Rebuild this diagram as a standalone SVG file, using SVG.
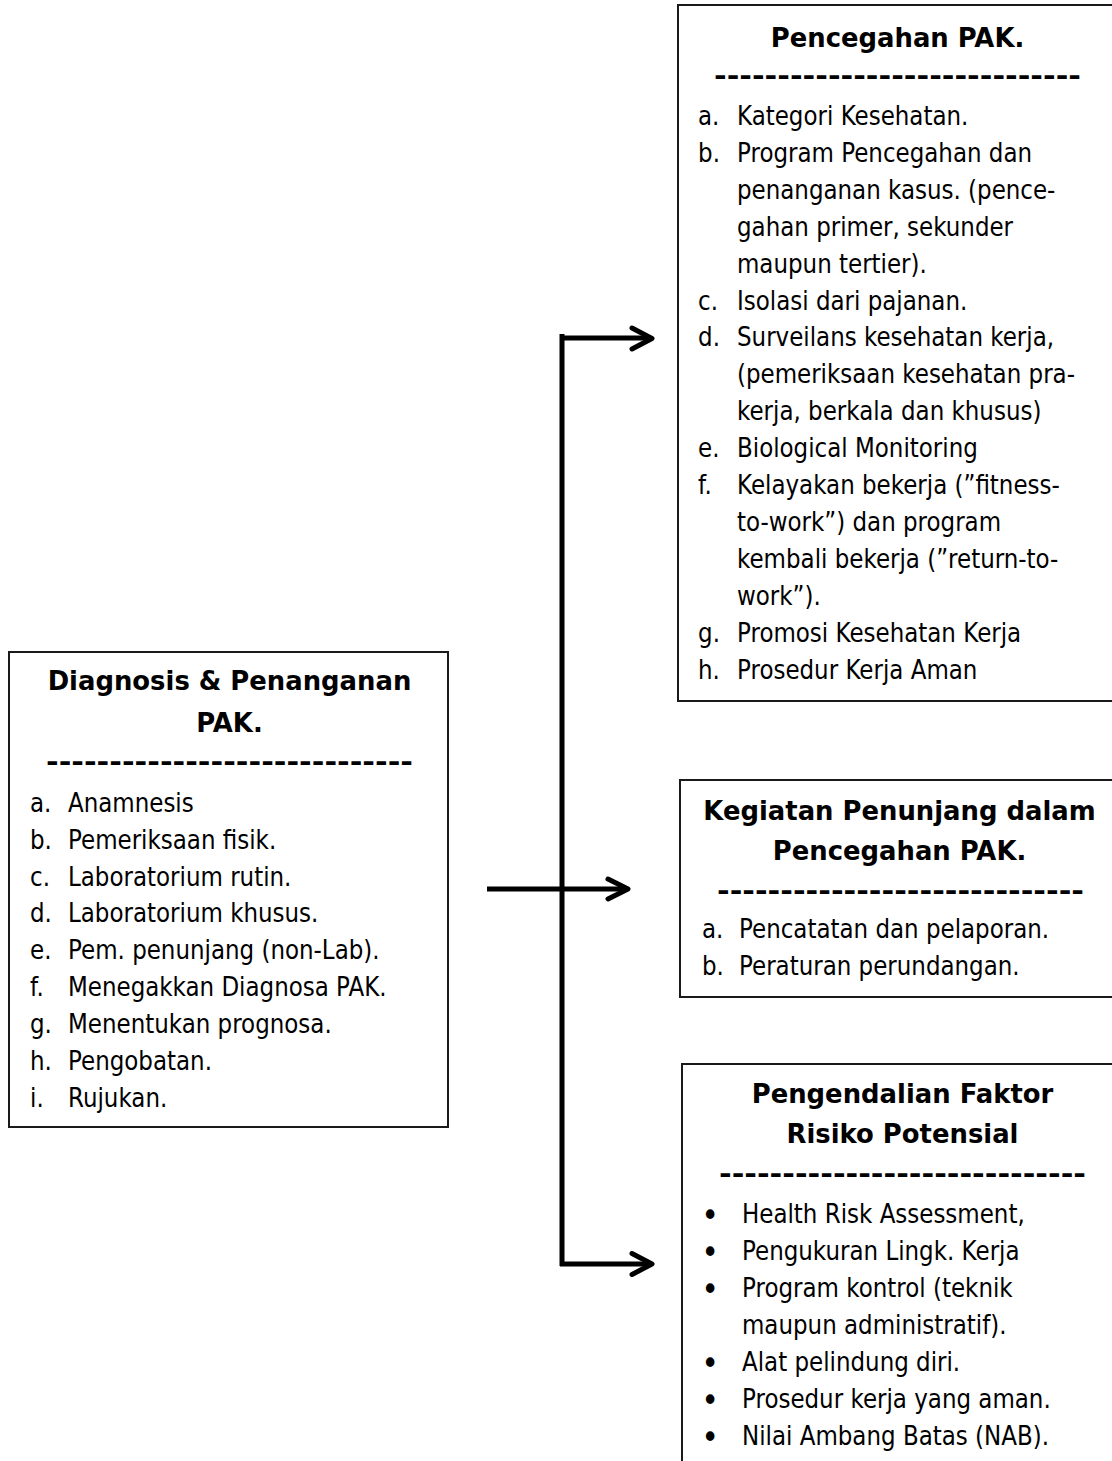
<svg xmlns="http://www.w3.org/2000/svg" width="1112" height="1461" viewBox="0 0 1112 1461">
<style>
.t{font-family:"DejaVu Sans",Verdana,sans-serif;font-size:26.67px;fill:#000}
.b{font-family:"DejaVu Sans",Verdana,sans-serif;font-size:26.67px;font-weight:bold;fill:#000}
.bu{font-family:"DejaVu Sans",Verdana,sans-serif;font-size:34px;fill:#000}
.box{fill:#fff;stroke:#1a1a1a;stroke-width:2}
.conn{fill:none;stroke:#000;stroke-width:5}
.head{fill:none;stroke:#000;stroke-width:5;stroke-linecap:round;stroke-linejoin:round}
</style>
<rect width="1112" height="1461" fill="#fff"/>

<g id="connectors">
  <path class="conn" d="M562,1266 V334"/>
  <path class="conn" d="M560,338 H650"/>
  <polyline class="head" points="632,328 652,338.5 632,349"/>
  <path class="conn" d="M487,889 H626"/>
  <polyline class="head" points="608,879 628,889 608,899"/>
  <path class="conn" d="M560,1264 H650"/>
  <polyline class="head" points="632,1253.5 652,1264 632,1274.5"/>
</g>

<g id="node-pencegahan">
  <rect class="box" x="678" y="5" width="450" height="696"/>
  <text class="b" text-anchor="middle" transform="translate(897.5,47) scale(0.97,1)">Pencegahan PAK.</text>
  <text class="b" x="714" y="85" textLength="367" lengthAdjust="spacingAndGlyphs">-----------------------------</text>
  <g transform="translate(737,0) scale(0.862,1)">
    <text class="t" x="-45.2" y="125">a.</text><text class="t" x="0" y="125">Kategori Kesehatan.</text>
    <text class="t" x="-45.2" y="162">b.</text><text class="t" x="0" y="162">Program Pencegahan dan</text>
    <text class="t" x="0" y="199">penanganan kasus. (pence-</text>
    <text class="t" x="0" y="236">gahan primer, sekunder</text>
    <text class="t" x="0" y="273">maupun tertier).</text>
    <text class="t" x="-45.2" y="310">c.</text><text class="t" x="0" y="310">Isolasi dari pajanan.</text>
    <text class="t" x="-45.2" y="346">d.</text><text class="t" x="0" y="346">Surveilans kesehatan kerja,</text>
    <text class="t" x="0" y="383">(pemeriksaan kesehatan pra-</text>
    <text class="t" x="0" y="420">kerja, berkala dan khusus)</text>
    <text class="t" x="-45.2" y="457">e.</text><text class="t" x="0" y="457">Biological Monitoring</text>
    <text class="t" x="-45.2" y="494">f.</text><text class="t" x="0" y="494">Kelayakan bekerja (”fitness-</text>
    <text class="t" x="0" y="531">to-work”) dan program</text>
    <text class="t" x="0" y="568">kembali bekerja (”return-to-</text>
    <text class="t" x="0" y="605">work”).</text>
    <text class="t" x="-45.2" y="642">g.</text><text class="t" x="0" y="642">Promosi Kesehatan Kerja</text>
    <text class="t" x="-45.2" y="679">h.</text><text class="t" x="0" y="679">Prosedur Kerja Aman</text>
  </g>
</g>

<g id="node-diagnosis">
  <rect class="box" x="9" y="652" width="439" height="475"/>
  <text class="b" text-anchor="middle" transform="translate(229.5,690) scale(0.97,1)">Diagnosis &amp; Penanganan</text>
  <text class="b" text-anchor="middle" transform="translate(229.5,732) scale(0.97,1)">PAK.</text>
  <text class="b" x="46" y="771" textLength="367" lengthAdjust="spacingAndGlyphs">-----------------------------</text>
  <g transform="translate(68,0) scale(0.862,1)">
    <text class="t" x="-44.1" y="812">a.</text><text class="t" x="0" y="812">Anamnesis</text>
    <text class="t" x="-44.1" y="849">b.</text><text class="t" x="0" y="849">Pemeriksaan fisik.</text>
    <text class="t" x="-44.1" y="886">c.</text><text class="t" x="0" y="886">Laboratorium rutin.</text>
    <text class="t" x="-44.1" y="922">d.</text><text class="t" x="0" y="922">Laboratorium khusus.</text>
    <text class="t" x="-44.1" y="959">e.</text><text class="t" x="0" y="959">Pem. penunjang (non-Lab).</text>
    <text class="t" x="-44.1" y="996">f.</text><text class="t" x="0" y="996">Menegakkan Diagnosa PAK.</text>
    <text class="t" x="-44.1" y="1033">g.</text><text class="t" x="0" y="1033">Menentukan prognosa.</text>
    <text class="t" x="-44.1" y="1070">h.</text><text class="t" x="0" y="1070">Pengobatan.</text>
    <text class="t" x="-44.1" y="1107">i.</text><text class="t" x="0" y="1107">Rujukan.</text>
  </g>
</g>

<g id="node-penunjang">
  <rect class="box" x="680" y="780" width="450" height="217"/>
  <text class="b" text-anchor="middle" transform="translate(899.5,820) scale(0.97,1)">Kegiatan Penunjang dalam</text>
  <text class="b" text-anchor="middle" transform="translate(899.5,860) scale(0.97,1)">Pencegahan PAK.</text>
  <text class="b" x="717" y="900" textLength="367" lengthAdjust="spacingAndGlyphs">-----------------------------</text>
  <g transform="translate(739,0) scale(0.862,1)">
    <text class="t" x="-42.9" y="938">a.</text><text class="t" x="0" y="938">Pencatatan dan pelaporan.</text>
    <text class="t" x="-42.9" y="975">b.</text><text class="t" x="0" y="975">Peraturan perundangan.</text>
  </g>
</g>

<g id="node-pengendalian">
  <rect class="box" x="682" y="1064" width="450" height="420"/>
  <text class="b" text-anchor="middle" transform="translate(902.5,1103) scale(0.97,1)">Pengendalian Faktor</text>
  <text class="b" text-anchor="middle" transform="translate(902.5,1143) scale(0.97,1)">Risiko Potensial</text>
  <text class="b" x="719" y="1183" textLength="367" lengthAdjust="spacingAndGlyphs">-----------------------------</text>
  <g transform="translate(742,0) scale(0.862,1)">
    <text class="bu" x="-37.1" y="1227" text-anchor="middle">•</text><text class="t" x="0" y="1223">Health Risk Assessment,</text>
    <text class="bu" x="-37.1" y="1264" text-anchor="middle">•</text><text class="t" x="0" y="1260">Pengukuran Lingk. Kerja</text>
    <text class="bu" x="-37.1" y="1301" text-anchor="middle">•</text><text class="t" x="0" y="1297">Program kontrol (teknik</text>
    <text class="t" x="0" y="1334">maupun administratif).</text>
    <text class="bu" x="-37.1" y="1375" text-anchor="middle">•</text><text class="t" x="0" y="1371">Alat pelindung diri.</text>
    <text class="bu" x="-37.1" y="1412" text-anchor="middle">•</text><text class="t" x="0" y="1408">Prosedur kerja yang aman.</text>
    <text class="bu" x="-37.1" y="1449" text-anchor="middle">•</text><text class="t" x="0" y="1445">Nilai Ambang Batas (NAB).</text>
  </g>
</g>
</svg>
